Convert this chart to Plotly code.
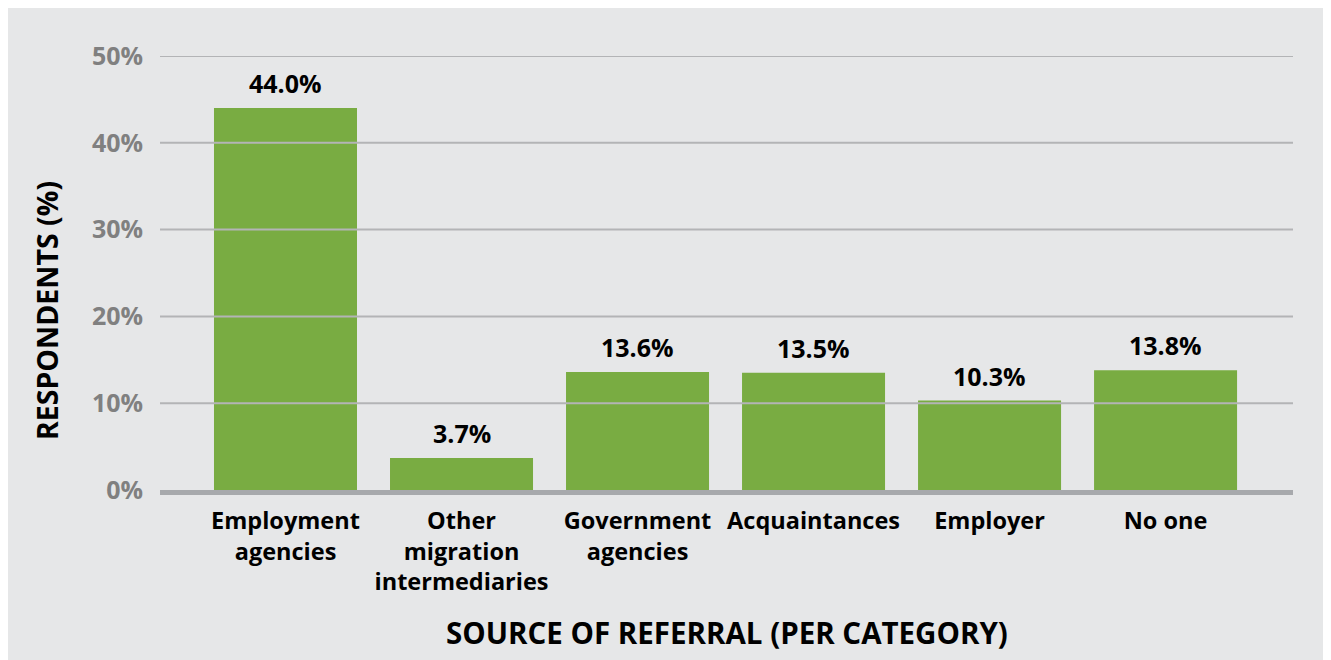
"""Referral source bar chart."""

import plotly.graph_objects as go

CATEGORIES = [
    "Employment<br>agencies",
    "Other<br>migration<br>intermediaries",
    "Government<br>agencies",
    "Acquaintances",
    "Employer",
    "No one",
]
VALUES = [44.0, 3.7, 13.6, 13.5, 10.3, 13.8]
Y_TICKS = [0, 10, 20, 30, 40, 50]
Y_TICK_LABELS = ["0%", "10%", "20%", "30%", "40%", "50%"]

FONT = "Open Sans"
BG = "#e6e7e8"
GREEN = "#79ac42"
GRID = "#b3b4b6"
AXIS = "#a7a9ac"

# the page adds an 8px body margin, so the figure is offset by that much
W, H = 1331, 660
L, R, T, B = 152, 46, 48, 178
PW, PH = W - L - R, H - T - B

fig = go.Figure()

fig.add_trace(
    go.Bar(
        x=CATEGORIES,
        y=VALUES,
        marker=dict(color=GREEN, line=dict(width=0)),
        hoverinfo="x+y",
    )
)

# value labels above bars
for cat, val in zip(CATEGORIES, VALUES):
    fig.add_annotation(
        x=cat, y=val, text=f"<b>{val:.1f}%</b>",
        showarrow=False, yanchor="bottom", yshift=6,
        font=dict(family=FONT, size=25, color="#000000"),
    )

# gridlines sit on top of the bars in the original
for v in Y_TICKS[1:]:
    fig.add_shape(
        type="line", xref="paper", yref="y",
        x0=0, x1=1, y0=v, y1=v,
        line=dict(color=GRID, width=2), layer="above",
    )

fig.add_annotation(
    text="<b>SOURCE OF REFERRAL (PER CATEGORY)</b>",
    xref="paper", yref="paper", x=0.5, y=(PH - (624 - T)) / PH,
    xanchor="center", yanchor="middle",
    showarrow=False, font=dict(family=FONT, size=29.5, color="#000000"),
)
fig.add_annotation(
    text="<b>RESPONDENTS (%)</b>",
    xref="paper", yref="paper", x=(39 - L) / PW, y=(PH - (303 - T)) / PH,
    xanchor="center", yanchor="middle",
    textangle=-90, showarrow=False,
    font=dict(family=FONT, size=28.5, color="#000000"),
)

fig.update_layout(
    width=W,
    height=H,
    margin=dict(l=L, r=R, t=T, b=B, pad=0),
    paper_bgcolor=BG,
    plot_bgcolor=BG,
    bargap=0.1875,
    showlegend=False,
    xaxis=dict(
        range=[-0.713, 5.724],
        showgrid=False,
        showline=True,
        linecolor=AXIS,
        linewidth=5,
        layer="above traces",
        ticks="",
        ticklabelstandoff=6,
        tickfont=dict(family=FONT, size=23.5, color="#000000", weight="bold"),
    ),
    yaxis=dict(
        range=[0, 50],
        tickvals=Y_TICKS,
        ticktext=Y_TICK_LABELS,
        showgrid=False,
        zeroline=False,
        showline=False,
        ticks="",
        ticklabelstandoff=16,
        tickfont=dict(family=FONT, size=25, color="#808080", weight="bold"),
    ),
)

fig.write_html("out.html")
